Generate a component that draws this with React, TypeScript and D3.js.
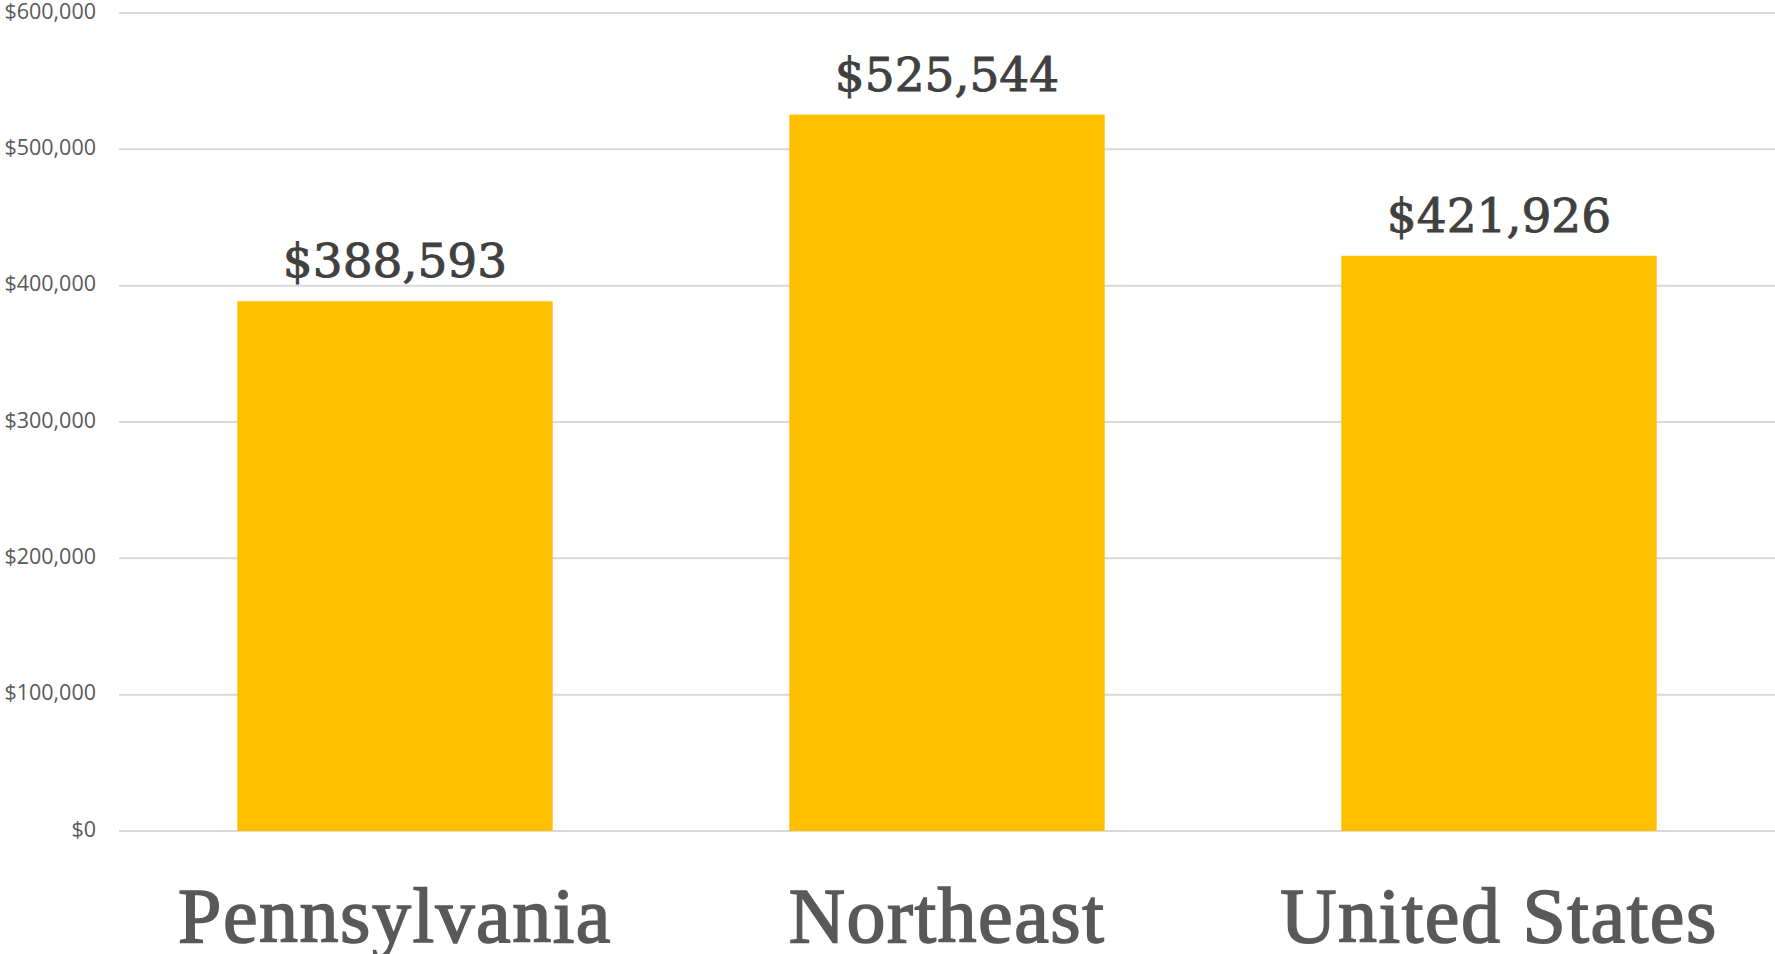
import React from "react";
import * as d3 from "d3";

const categories = ["Pennsylvania", "Northeast", "United States"];
const values = [388593, 525544, 421926];
const yTicks = [0, 100000, 200000, 300000, 400000, 500000, 600000];

const width = 1775;
const height = 954;
const margin = { top: 13, right: 0, bottom: 123, left: 119 };

export default function App() {
  const plotWidth = width - margin.left - margin.right;
  const plotHeight = height - margin.top - margin.bottom;

  const x = d3
    .scaleBand<string>()
    .domain(categories)
    .range([0, plotWidth])
    .paddingInner(0.4286)
    .paddingOuter(0.2143);

  const y = d3.scaleLinear().domain([0, 600000]).range([plotHeight, 0]);

  const money = d3.format("$,");

  return (
    <svg
      width={width}
      height={height}
      style={{ position: "absolute", left: 0, top: 0, background: "#fff" }}
    >
      <g transform={`translate(${margin.left},${margin.top})`}>
        {/* grid + y labels */}
        {yTicks.map((t) => (
          <g key={t}>
            <line
              x1={0}
              x2={plotWidth}
              y1={y(t)}
              y2={y(t)}
              stroke="#d9d9d9"
              strokeWidth={2}
            />
            <text
              x={-23}
              y={y(t)}
              textAnchor="end"
              dominantBaseline="middle"
              fontFamily="'Open Sans', sans-serif"
              fontSize={21.5}
              fill="#595959"
            >
              {money(t)}
            </text>
          </g>
        ))}

        {/* bars */}
        {categories.map((c, i) => (
          <rect
            key={c}
            x={x(c)}
            y={y(values[i])}
            width={x.bandwidth()}
            height={plotHeight - y(values[i])}
            fill="#FFC000"
          />
        ))}

        {/* value labels */}
        {categories.map((c, i) => (
          <text
            key={c + "-v"}
            x={(x(c) ?? 0) + x.bandwidth() / 2}
            y={y(values[i]) - 24}
            textAnchor="middle"
            fontFamily="'DejaVu Serif', serif"
            fontSize={47}
            fill="#404040"
            stroke="#404040"
            strokeWidth={0.9}
          >
            {money(values[i])}
          </text>
        ))}

        {/* category labels */}
        {categories.map((c) => (
          <text
            key={c + "-c"}
            x={(x(c) ?? 0) + x.bandwidth() / 2}
            y={plotHeight + 111}
            textAnchor="middle"
            fontFamily="'Liberation Serif', serif"
            fontSize={78}
            letterSpacing={1.5}
            fill="#595959"
            stroke="#595959"
            strokeWidth={1.6}
          >
            {c}
          </text>
        ))}
      </g>
    </svg>
  );
}
